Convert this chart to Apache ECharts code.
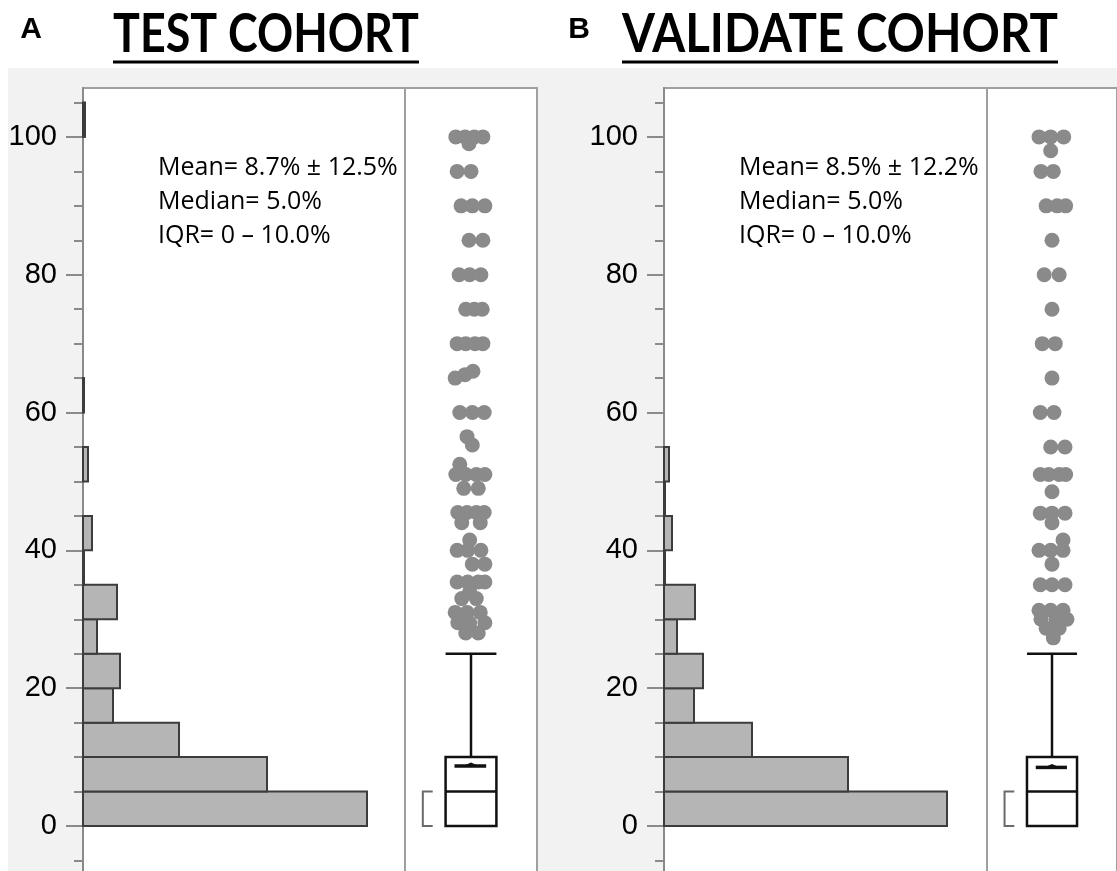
<!DOCTYPE html>
<html>
<head>
<meta charset="utf-8">
<script src="https://cdn.jsdelivr.net/npm/echarts@6/dist/echarts.min.js"></script>
<style>
html,body{margin:0;padding:0;background:#ffffff;overflow:hidden;width:1117px;height:871px;}
#bg{position:absolute;left:8px;top:68px;width:1109px;height:803px;background:#f2f2f2;}
#chart{position:absolute;left:0;top:0;width:1117px;height:900px;}
</style>
</head>
<body>
<div id="bg"></div>
<div id="chart"></div>
<script>
// ---------------- data ----------------
const panelLetters = ['A', 'B'];
const panelTitles = ['TEST COHORT', 'VALIDATE COHORT'];

const yMajorTicks = [0, 20, 40, 60, 80, 100];
const yMinorTicks = [-5, 0, 5, 10, 15, 20, 25, 30, 35, 40, 45, 50, 55, 60, 65, 70, 75, 80, 85, 90, 95, 100, 105];

// histogram bins (lower edge, width 5)
const binLower = [0, 5, 10, 15, 20, 25, 30, 35, 40, 45, 50, 55, 60, 65, 70, 75, 80, 85, 90, 95, 100];
const testBinCounts     = [284, 184, 96, 30, 37, 14, 34, 1, 9, 0, 5, 0, 1, 0, 0, 0, 0, 0, 0, 0, 2];
const validateBinCounts = [283, 184, 88, 30, 39, 13, 31, 1, 8, 1, 5, 0, 0, 0, 0, 0, 0, 0, 0, 0, 0];

// box plot summaries: [min, q1, median, q3, upper whisker]
const testBox = [0, 0, 5, 10, 25];
const validateBox = [0, 0, 5, 10, 25];
const testMean = 8.7;
const validateMean = 8.5;
// shortest half
const testShortestHalf = [0, 5];
const validateShortestHalf = [0, 5];

// outlier points (value) and horizontal jitter (-1..1)
const testDotValues = [
  100, 100, 100, 100, 99,
  95, 95,
  90, 90, 90,
  85, 85,
  80, 80, 80,
  75, 75, 75,
  70, 70, 70, 70,
  66, 65.5, 65,
  60, 60, 60,
  56.5, 55.3,
  52.5, 51, 51, 51, 51, 49, 49,
  45.5, 45.5, 45.5, 45.5, 44, 44,
  41.5, 40, 40, 40, 38, 38,
  35.4, 35.4, 35.4, 35.4, 34, 33, 33, 31, 31, 31, 29.5, 29.5, 29.5, 28, 28
];
const testDotJitter = [
  -0.23, -0.09, 0.05, 0.18, -0.03,
  -0.21, 0,
  -0.15, 0.02, 0.21,
  -0.03, 0.18,
  -0.18, -0.02, 0.15,
  -0.08, 0.05, 0.17,
  -0.21, -0.08, 0.06, 0.18,
  0.03, -0.09, -0.24,
  -0.17, 0.02, 0.2,
  -0.06, 0.02,
  -0.17, -0.23, -0.08, 0.08, 0.21, -0.11, 0.11,
  -0.2, -0.06, 0.08, 0.2, -0.14, 0.14,
  -0.02, -0.21, -0.05, 0.15, 0.02, 0.21,
  -0.21, -0.05, 0.11, 0.21, -0.02, -0.14, 0.08, -0.24, -0.06, 0.14, -0.2, -0.02, 0.21, -0.08, 0.11
];
const validateDotValues = [
  100, 100, 100, 98,
  95, 95,
  90, 90, 90,
  85,
  80, 80,
  75,
  70, 70,
  65,
  60, 60,
  55, 55,
  51, 51, 51, 51, 48.5,
  45.4, 45.4, 45.4, 44,
  41.5, 40, 40, 40, 38,
  35, 35, 35,
  31.3, 31.3, 31.3, 30, 30, 30, 28.7, 28.7, 27.3
];
const validateDotJitter = [
  -0.2, -0.02, 0.18, -0.02,
  -0.17, 0.02,
  -0.09, 0.08, 0.21,
  0,
  -0.12, 0.11,
  0,
  -0.15, 0.05,
  0,
  -0.18, 0.03,
  -0.02, 0.2,
  -0.18, -0.05, 0.11, 0.21, 0,
  -0.18, 0, 0.2, 0,
  0.17, -0.2, -0.02, 0.17, 0,
  -0.18, 0, 0.2,
  -0.2, -0.02, 0.17, -0.17, 0.06, 0.23, -0.09, 0.11, 0.02
];

const testStats = ['Mean= 8.7% \u00b1 12.5%', 'Median= 5.0%', 'IQR= 0 \u2013 10.0%'];
const validateStats = ['Mean= 8.5% \u00b1 12.2%', 'Median= 5.0%', 'IQR= 0 \u2013 10.0%'];

// ---------------- chart ----------------
const chart = echarts.init(document.getElementById('chart'), null, {renderer: 'canvas'});

const Y_MIN = -9, Y_MAX = 107.1;
const AXIS_GRAY = '#8a8a8a';
const BORDER_GRAY = '#a0a0a0';

function histData(counts) {
  return binLower.map((lo, i) => [lo, lo + 5, counts[i]]);
}
function dotData(vals, jit) {
  return vals.map((v, i) => [jit[i], v]);
}

function histItem(params, api) {
  const lo = api.value(0), hi = api.value(1), c = api.value(2);
  if (!c) return null;
  const p0 = api.coord([0, lo]);
  const p1 = api.coord([c, hi]);
  return {
    type: 'rect',
    shape: {x: p0[0], y: p1[1], width: p1[0] - p0[0], height: p0[1] - p1[1]},
    style: {fill: '#b5b5b5', stroke: '#3c3c3c', lineWidth: 2}
  };
}

function boxItem(params, api) {
  const mn = api.value(0), q1 = api.value(1), med = api.value(2), q3 = api.value(3), wh = api.value(4);
  const mean = api.value(5), sLo = api.value(6), sHi = api.value(7);
  const c = (x, y) => api.coord([x, y]);
  const bw = 0.385;
  const tl = c(-bw, q3), br = c(bw, q1);
  const ink = {stroke: '#111', lineWidth: 2.5, fill: null};
  const children = [];
  children.push({type: 'rect', shape: {x: tl[0], y: tl[1], width: br[0] - tl[0], height: br[1] - tl[1]}, style: {fill: '#fff', stroke: '#111', lineWidth: 2.5}});
  const m0 = c(-bw, med), m1 = c(bw, med);
  children.push({type: 'line', shape: {x1: m0[0], y1: m0[1], x2: m1[0], y2: m1[1]}, style: ink});
  const w0 = c(0, q3), w1 = c(0, wh);
  children.push({type: 'line', shape: {x1: w0[0], y1: w0[1], x2: w1[0], y2: w1[1]}, style: ink});
  const k0 = c(-bw, wh), k1 = c(bw, wh);
  children.push({type: 'line', shape: {x1: k0[0], y1: k0[1], x2: k1[0], y2: k1[1]}, style: ink});
  const l0 = c(0, mn), l1 = c(0, q1);
  children.push({type: 'line', shape: {x1: l0[0], y1: l0[1], x2: l1[0], y2: l1[1]}, style: ink});
  // mean marker
  const a0 = c(-0.25, mean), a1 = c(0.23, mean);
  children.push({type: 'line', shape: {x1: a0[0], y1: a0[1], x2: a1[0], y2: a1[1]}, style: {stroke: '#111', lineWidth: 3.5}});
  const t0 = c(-0.12, mean), t1 = c(0, mean + 0.5), t2 = c(0.12, mean);
  children.push({type: 'polygon', shape: {points: [t0, t1, t2]}, style: {fill: '#111'}});
  // shortest half bracket
  const b0 = c(-0.58, sHi), b1 = c(-0.73, sHi), b2 = c(-0.73, sLo), b3 = c(-0.58, sLo);
  children.push({type: 'polyline', shape: {points: [b0, b1, b2, b3]}, style: {stroke: '#6a6a6a', lineWidth: 2, fill: null}});
  return {type: 'group', children: children};
}

const gridBase = {top: 88, height: 800, show: true, backgroundColor: '#ffffff', borderColor: BORDER_GRAY, borderWidth: 2, containLabel: false};

function majorY(gridIndex) {
  return {
    type: 'value', gridIndex: gridIndex, min: Y_MIN, max: Y_MAX, position: 'left',
    axisLine: {show: true, lineStyle: {color: AXIS_GRAY, width: 2}},
    axisTick: {show: true, customValues: yMajorTicks, length: 17, lineStyle: {color: AXIS_GRAY, width: 2}},
    axisLabel: {show: true, customValues: yMajorTicks, fontSize: 29, color: '#000', margin: 26, fontFamily: 'Liberation Sans, Arial, sans-serif'},
    splitLine: {show: false}
  };
}
function minorY(gridIndex) {
  return {
    type: 'value', gridIndex: gridIndex, min: Y_MIN, max: Y_MAX, position: 'left', offset: 0,
    axisLine: {show: false},
    axisTick: {show: true, customValues: yMinorTicks, length: 9, lineStyle: {color: AXIS_GRAY, width: 2}},
    axisLabel: {show: false},
    splitLine: {show: false}
  };
}
function hiddenY(gridIndex) {
  return {type: 'value', gridIndex: gridIndex, min: Y_MIN, max: Y_MAX, show: false, splitLine: {show: false}};
}

// title text measurement (for fitting to reference width)
const titleFamily = 'Lato';
const titleSize = 54;
function measure(text, size, family) {
  const cv = document.createElement('canvas').getContext('2d');
  cv.font = 'bold ' + size + 'px ' + family;
  return cv.measureText(text).width;
}

const titleCenters = [266, 840];
const titleWidths = [306, 436];
const letterX = [31, 579];
const statsLeft = [158, 739];
const statsY = [168, 202, 236];

const graphics = [];
panelTitles.forEach((t, i) => {
  const w = measure(t, titleSize, titleFamily);
  const sx = titleWidths[i] / w;
  graphics.push({type: 'text', x: titleCenters[i], y: 35, scaleX: sx, scaleY: 1, style: {text: t, font: 'bold ' + titleSize + 'px ' + titleFamily, fill: '#000', align: 'center', verticalAlign: 'middle'}});
  graphics.push({type: 'line', shape: {x1: titleCenters[i] - titleWidths[i] / 2, y1: 62, x2: titleCenters[i] + titleWidths[i] / 2, y2: 62}, style: {stroke: '#000', lineWidth: 3}});
  graphics.push({type: 'text', x: letterX[i], y: 30, style: {text: panelLetters[i], font: 'bold 30px Liberation Sans, Arial, sans-serif', fill: '#000', align: 'center', verticalAlign: 'middle'}});
});
[testStats, validateStats].forEach((lines, i) => {
  lines.forEach((s, j) => {
    graphics.push({type: 'text', x: statsLeft[i], y: statsY[j], z: 100, style: {text: s, font: '25px Open Sans', fill: '#000', align: 'left', verticalAlign: 'middle'}});
  });
});

const option = {
  animation: false,
  backgroundColor: 'transparent',
  grid: [
    Object.assign({left: 83, width: 322}, gridBase),
    Object.assign({left: 405, width: 132}, gridBase),
    Object.assign({left: 664, width: 323}, gridBase),
    Object.assign({left: 987, width: 132}, gridBase)
  ],
  xAxis: [
    {type: 'value', gridIndex: 0, min: 0, max: 322, show: false, splitLine: {show: false}},
    {type: 'value', gridIndex: 1, min: -1, max: 1, show: false, splitLine: {show: false}},
    {type: 'value', gridIndex: 2, min: 0, max: 323, show: false, splitLine: {show: false}},
    {type: 'value', gridIndex: 3, min: -1, max: 1, show: false, splitLine: {show: false}}
  ],
  yAxis: [
    majorY(0), minorY(0), hiddenY(1),
    majorY(2), minorY(2), hiddenY(3)
  ],
  series: [
    {type: 'custom', xAxisIndex: 0, yAxisIndex: 0, renderItem: histItem, data: histData(testBinCounts), encode: {x: 2, y: [0, 1]}, clip: false, silent: true},
    {type: 'scatter', xAxisIndex: 1, yAxisIndex: 2, data: dotData(testDotValues, testDotJitter), symbolSize: 15, itemStyle: {color: '#8a8a8a', opacity: 1}, silent: true},
    {type: 'custom', xAxisIndex: 1, yAxisIndex: 2, renderItem: boxItem, data: [testBox.concat([testMean], testShortestHalf)], encode: {x: -1, y: [0, 4]}, clip: false, silent: true},
    {type: 'custom', xAxisIndex: 2, yAxisIndex: 3, renderItem: histItem, data: histData(validateBinCounts), encode: {x: 2, y: [0, 1]}, clip: false, silent: true},
    {type: 'scatter', xAxisIndex: 3, yAxisIndex: 5, data: dotData(validateDotValues, validateDotJitter), symbolSize: 15, itemStyle: {color: '#8a8a8a', opacity: 1}, silent: true},
    {type: 'custom', xAxisIndex: 3, yAxisIndex: 5, renderItem: boxItem, data: [validateBox.concat([validateMean], validateShortestHalf)], encode: {x: -1, y: [0, 4]}, clip: false, silent: true}
  ],
  graphic: graphics
};
chart.setOption(option);
</script>
</body>
</html>
